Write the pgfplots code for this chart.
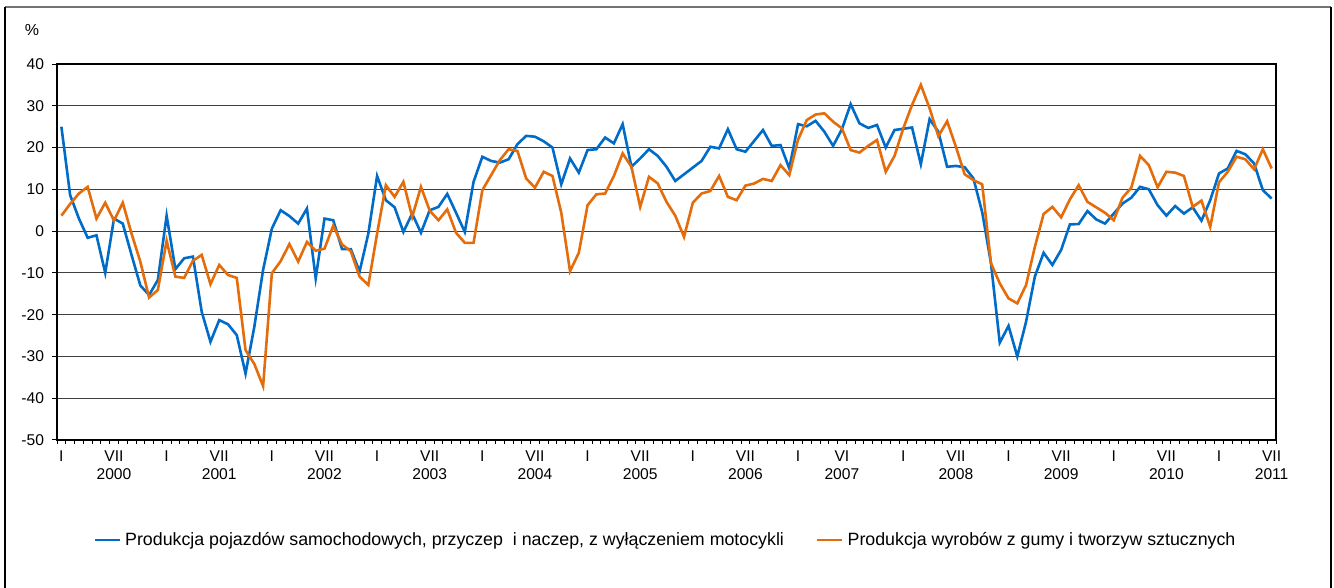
\documentclass[border=0pt]{standalone}
\usepackage{pgfplots}
\pgfplotsset{compat=1.18}
\usepackage{fontspec}
\setmainfont{Liberation Sans}
\definecolor{serblue}{RGB}{0,108,200}
\definecolor{serorange}{RGB}{228,108,10}

\begin{document}
\begin{tikzpicture}
\useasboundingbox (0,0) rectangle (667pt,294pt);
% outer frame
\draw[black!55, line width=0.9pt] (2.5pt,290.5pt) -- (665.5pt,290.5pt);
\draw[black, line width=0.6pt] (2.5pt,0pt) -- (2.5pt,290.5pt);
\draw[black, line width=0.6pt] (665.5pt,0pt) -- (665.5pt,290.5pt);
\node[font=\fontsize{8}{9}\selectfont] at (16pt,279pt) {\%};

\begin{axis}[
    at={(28.5pt,74pt)}, anchor=south west,
    scale only axis, width=609.5pt, height=188pt,
    xmin=-0.5, xmax=138.5, ymin=-50, ymax=40,
    axis line style={black, line width=0.6pt},
    ytick={-50,-40,...,40},
    yticklabels={-50,-40,-30,-20,-10,0,10,20,30,40},
    ymajorgrids, major grid style={black!75, line width=0.5pt},
    ytick pos=left, xtick pos=bottom,
    tick align=outside, major tick length=2.5pt, minor tick length=2pt,
    major x tick style={draw=none},
    minor x tick style={black, line width=0.4pt},
    major y tick style={black, line width=0.5pt},
    xtick={0,6,12,18,24,30,36,42,48,54,60,66,72,78,84,89,96,102,108,114,120,126,132,138},
    xticklabels={I,{VII\\2000},I,{VII\\2001},I,{VII\\2002},I,{VII\\2003},I,{VII\\2004},I,{VII\\2005},I,{VII\\2006},I,{VI\\2007},I,{VII\\2008},I,{VII\\2009},I,{VII\\2010},I,{VII\\2011}},
    minor xtick={-0.5,0.5,...,138.5},
    xticklabel style={align=center, font=\fontsize{7.8}{9}\selectfont, yshift=0.5pt},
    yticklabel style={font=\fontsize{7.8}{9}\selectfont, xshift=-0.5pt},
    legend columns=2,
    legend style={at={(0.5,-0.266)}, anchor=center, draw=none,
        font=\fontsize{8.9}{10}\selectfont,
        /tikz/every even column/.append style={column sep=14pt}},
    legend image code/.code={\draw[#1, line width=1.3pt] (0pt,0pt) -- (12.5pt,0pt);},
]
\addplot[serblue, line width=1.3pt] coordinates {
(0,25.0) (1,8.6) (2,3.0) (3,-1.6) (4,-1.0) (5,-10.0) (6,3.0) (7,1.8) (8,-5.7) (9,-13.0)
(10,-15.3) (11,-11.7) (12,3.7) (13,-9.1) (14,-6.5) (15,-6.1) (16,-19.3) (17,-26.5) (18,-21.3) (19,-22.3)
(20,-24.9) (21,-34.1) (22,-22.9) (23,-9.3) (24,0.6) (25,5.0) (26,3.6) (27,1.8) (28,5.4) (29,-11.3)
(30,3.0) (31,2.6) (32,-4.3) (33,-4.3) (34,-9.7) (35,-0.6) (36,13.2) (37,7.4) (38,5.7) (39,-0.2)
(40,4.2) (41,-0.4) (42,5.0) (43,5.8) (44,8.9) (45,4.4) (46,-0.2) (47,11.8) (48,17.8) (49,16.8)
(50,16.4) (51,17.2) (52,20.8) (53,22.8) (54,22.6) (55,21.5) (56,20.0) (57,11.2) (58,17.4) (59,14.0)
(60,19.4) (61,19.6) (62,22.4) (63,21.0) (64,25.6) (65,15.4) (66,17.4) (67,19.6) (68,18.0) (69,15.4)
(70,12.0) (71,13.6) (72,15.2) (73,16.8) (74,20.2) (75,19.8) (76,24.4) (77,19.6) (78,19.0) (79,21.6)
(80,24.2) (81,20.4) (82,20.6) (83,15.0) (84,25.6) (85,25.1) (86,26.4) (87,23.8) (88,20.4) (89,24.4)
(90,30.4) (91,25.8) (92,24.7) (93,25.4) (94,20.0) (95,24.2) (96,24.5) (97,24.8) (98,16.0) (99,26.8)
(100,23.8) (101,15.4) (102,15.6) (103,15.3) (104,12.6) (105,4.5) (106,-7.7) (107,-26.7) (108,-22.7) (109,-30.0)
(110,-21.7) (111,-10.9) (112,-5.2) (113,-8.1) (114,-4.5) (115,1.6) (116,1.7) (117,4.8) (118,2.8) (119,1.8)
(120,4.2) (121,6.6) (122,8.0) (123,10.6) (124,10.0) (125,6.2) (126,3.7) (127,6.0) (128,4.2) (129,5.7)
(130,2.5) (131,7.4) (132,13.8) (133,15.0) (134,19.2) (135,18.4) (136,16.2) (137,9.8) (138,7.8)
};
\addlegendentry{Produkcja pojazdów samochodowych, przyczep~ i naczep, z wyłączeniem motocykli}
\addplot[serorange, line width=1.3pt] coordinates {
(0,3.7) (1,6.5) (2,9.0) (3,10.6) (4,3.0) (5,6.8) (6,2.5) (7,6.8) (8,-0.6) (9,-7.3)
(10,-15.9) (11,-14.1) (12,-2.3) (13,-10.9) (14,-11.2) (15,-7.1) (16,-5.7) (17,-12.7) (18,-8.1) (19,-10.5)
(20,-11.2) (21,-28.5) (22,-31.8) (23,-37.1) (24,-10.1) (25,-7.2) (26,-3.1) (27,-7.3) (28,-2.6) (29,-4.7)
(30,-4.2) (31,1.3) (32,-3.2) (33,-4.8) (34,-10.9) (35,-12.9) (36,-0.6) (37,11.0) (38,8.2) (39,11.8)
(40,3.4) (41,10.6) (42,4.9) (43,2.6) (44,5.2) (45,-0.4) (46,-2.8) (47,-2.8) (48,9.8) (49,13.4)
(50,17.0) (51,19.6) (52,19.2) (53,12.6) (54,10.4) (55,14.2) (56,13.2) (57,4.4) (58,-9.6) (59,-5.2)
(60,6.2) (61,8.8) (62,9.0) (63,13.2) (64,18.6) (65,15.4) (66,5.8) (67,13.0) (68,11.4) (69,7.0)
(70,3.7) (71,-1.4) (72,6.8) (73,9.0) (74,9.6) (75,13.2) (76,8.2) (77,7.4) (78,10.9) (79,11.4)
(80,12.5) (81,12.0) (82,15.8) (83,13.4) (84,21.9) (85,26.6) (86,27.9) (87,28.2) (88,26.2) (89,24.6)
(90,19.4) (91,18.8) (92,20.4) (93,21.8) (94,14.2) (95,18.0) (96,24.6) (97,30.2) (98,35.0) (99,29.4)
(100,22.7) (101,26.3) (102,20.2) (103,13.6) (104,12.2) (105,11.2) (106,-7.7) (107,-12.5) (108,-16.1) (109,-17.3)
(110,-12.9) (111,-3.8) (112,4.1) (113,5.8) (114,3.3) (115,7.6) (116,11.0) (117,7.0) (118,5.7) (119,4.4)
(120,2.6) (121,8.0) (122,10.4) (123,18.0) (124,15.8) (125,10.5) (126,14.2) (127,14.0) (128,13.2) (129,5.8)
(130,7.3) (131,1.0) (132,11.7) (133,14.2) (134,17.8) (135,17.2) (136,14.8) (137,19.6) (138,15.0)
};
\addlegendentry{Produkcja wyrobów z gumy i tworzyw sztucznych}
\end{axis}
\end{tikzpicture}
\end{document}
